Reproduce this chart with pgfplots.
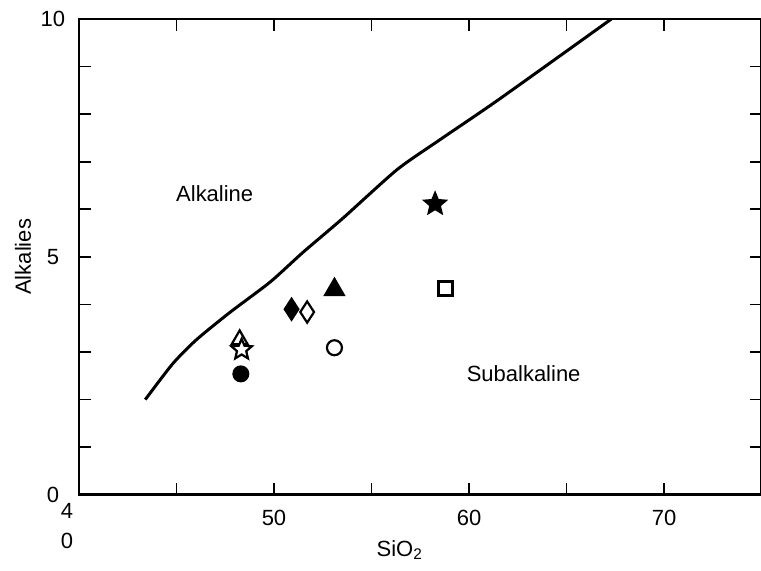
\documentclass[border=0pt]{standalone}
\usepackage{fontspec}
\setmainfont{Liberation Sans}
\usepackage{pgfplots}
\pgfplotsset{compat=1.18}

% marks with fill+stroke, colour set through mark options
\pgfdeclareplotmark{pstar}{%
  \pgfpathmoveto{\pgfqpointpolar{90}{\pgfplotmarksize}}%
  \pgfpathlineto{\pgfqpointpolar{126}{0.45\pgfplotmarksize}}%
  \pgfpathlineto{\pgfqpointpolar{162}{\pgfplotmarksize}}%
  \pgfpathlineto{\pgfqpointpolar{198}{0.45\pgfplotmarksize}}%
  \pgfpathlineto{\pgfqpointpolar{234}{\pgfplotmarksize}}%
  \pgfpathlineto{\pgfqpointpolar{270}{0.45\pgfplotmarksize}}%
  \pgfpathlineto{\pgfqpointpolar{306}{\pgfplotmarksize}}%
  \pgfpathlineto{\pgfqpointpolar{342}{0.45\pgfplotmarksize}}%
  \pgfpathlineto{\pgfqpointpolar{18}{\pgfplotmarksize}}%
  \pgfpathlineto{\pgfqpointpolar{54}{0.45\pgfplotmarksize}}%
  \pgfpathclose
  \pgfusepathqfillstroke}
\pgfdeclareplotmark{ptri}{%
  \pgfpathmoveto{\pgfqpointpolar{90}{\pgfplotmarksize}}%
  \pgfpathlineto{\pgfqpointpolar{210}{\pgfplotmarksize}}%
  \pgfpathlineto{\pgfqpointpolar{330}{\pgfplotmarksize}}%
  \pgfpathclose
  \pgfusepathqfillstroke}
\pgfdeclareplotmark{pdia}{%
  \pgfpathmoveto{\pgfqpoint{0pt}{\pgfplotmarksize}}%
  \pgfpathlineto{\pgfqpoint{0.65\pgfplotmarksize}{0pt}}%
  \pgfpathlineto{\pgfqpoint{0pt}{-\pgfplotmarksize}}%
  \pgfpathlineto{\pgfqpoint{-0.65\pgfplotmarksize}{0pt}}%
  \pgfpathclose
  \pgfusepathqfillstroke}

\begin{document}
\begin{tikzpicture}[font=\fontsize{11}{13}\selectfont]
\begin{axis}[name=ax, scale only axis, width=341.5pt, height=238pt,
  xmin=40, xmax=75, ymin=0, ymax=10,
  xtick={50,60,70}, minor xtick={45,55,65},
  extra x ticks={40}, extra x tick labels={{4\\[2pt]0}},
  extra x tick style={xticklabel style={xshift=-6pt,yshift=-4pt}},
  ytick={0,5,10}, minor ytick={1,2,3,4,6,7,8,9},
  tick align=inside, major tick length=6pt, minor tick length=6pt,
  tick style={black, line width=0.8pt},
  axis line style={line width=1.4pt},
  /pgf/number format/assume math mode=true,
  xticklabel style={anchor=center, yshift=-11.5pt, align=center},
  yticklabel style={anchor=center, xshift=-13pt},
  xlabel={SiO\textsubscript{2}}, ylabel={Alkalies},
  xlabel style={at={(axis description cs:0.47,0)}, anchor=base, yshift=-31pt},
  ylabel style={at={([xshift=-28pt]axis description cs:0,0.5)}, anchor=center},
]
% alkaline / subalkaline boundary
\addplot[black, line width=1.5pt, smooth, tension=0.4] coordinates {
  (43.4,2.0) (44.8,2.75) (46.0,3.25) (47.7,3.82) (49.8,4.47) (51.5,5.1)
  (53.5,5.8) (56.3,6.83) (58.5,7.46) (61.5,8.3) (67.3,10.0)};

\addplot[only marks, mark=*, mark size=3.75pt, mark options={draw=black, fill=black, line width=1pt}]
  coordinates {(48.3,2.54)};
\addplot[only marks, mark=*, mark size=3.75pt, mark options={draw=black, fill=white, line width=1.1pt}]
  coordinates {(53.1,3.09)};
\addplot[only marks, mark=ptri, mark size=4.6pt, mark options={draw=black, fill=white, line width=1.1pt}]
  coordinates {(48.24,3.26)};
\addplot[only marks, mark=pstar, mark size=5.4pt, mark options={draw=black, fill=white, line width=1.1pt}]
  coordinates {(48.34,3.05)};
\addplot[only marks, mark=pdia, mark size=5.3pt, mark options={draw=black, fill=black, line width=1pt}]
  coordinates {(50.9,3.9)};
\addplot[only marks, mark=pdia, mark size=5.3pt, mark options={draw=black, fill=white, line width=1.1pt}]
  coordinates {(51.7,3.84)};
\addplot[only marks, mark=ptri, mark size=5.5pt, mark options={draw=black, fill=black, line width=1pt}]
  coordinates {(53.1,4.31)};
\addplot[only marks, mark=square*, mark size=3.5pt, mark options={draw=black, fill=white, line width=1.5pt}]
  coordinates {(58.8,4.33)};
\addplot[only marks, mark=pstar, mark size=5.6pt, mark options={draw=black, fill=black, line width=1pt}]
  coordinates {(58.26,6.11)};

\node at (axis cs:46.96,6.32) {Alkaline};
\node at (axis cs:62.8,2.54) {Subalkaline};
\end{axis}
\pgfresetboundingbox
\path[use as bounding box] ([shift={(-39.5pt,-38pt)}]ax.south west) rectangle ([shift={(-0.3pt,9.5pt)}]ax.north east);
\end{tikzpicture}
\end{document}
